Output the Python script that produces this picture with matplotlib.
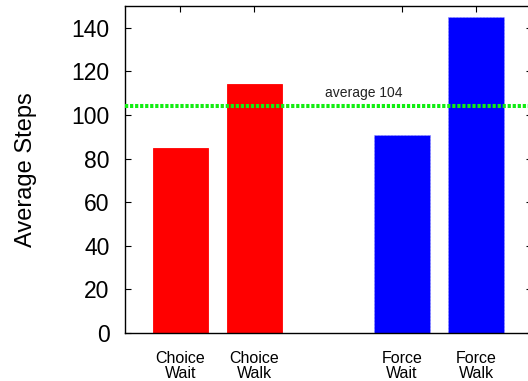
import matplotlib
matplotlib.use("Agg")
import matplotlib.pyplot as plt

categories = ["Choice\nWait", "Choice\nWalk", "Force\nWait", "Force\nWalk"]
positions = [1, 2, 4, 5]
values = [85, 114, 91, 145]
colors = ["#ff0000", "#ff0000", "#0000ff", "#0000ff"]
average_value = 104
average_label = "average 104"
y_ticks = [0, 20, 40, 60, 80, 100, 120, 140]

plt.rcParams['font.family'] = ['Liberation Sans', 'DejaVu Sans']

fig = plt.figure(figsize=(5.28, 3.81), dpi=100)
ax = fig.add_axes([125 / 528, 48 / 381, (531.5 - 125) / 528, (333 - 6) / 381])

for p, v, c in zip(positions, values, colors):
    ec = "#9999ff" if c == "#0000ff" else c
    ax.bar(p, v, width=0.75, color=c, edgecolor=ec, linewidth=0.6,
           linestyle=(0, (2, 2)) if c == "#0000ff" else "-", zorder=2)

ax.axhline(average_value, color="#11ee11", linewidth=2.9,
           linestyle=(0, (0.8, 0.45)), zorder=3)
ax.text(2.95, 110, average_label, fontsize=10, va="center", ha="left",
        color="#222222")

ax.set_xlim(0.25, 5.75)
ax.set_ylim(0, 150)
ax.set_yticks(y_ticks)
ax.set_xticks(positions)
ax.set_xticklabels(categories, fontsize=11.5, linespacing=1.0)
ax.set_ylabel("Average Steps", fontsize=17, labelpad=25)
ax.tick_params(axis="y", labelsize=16.5, direction="in", length=4,
               right=True, width=0.8, pad=11)
ax.tick_params(axis="x", direction="in", length=4, top=True, width=0.8,
               pad=13)
for s in ax.spines.values():
    s.set_linewidth(1.0)

fig.savefig("out.png", dpi=100)
